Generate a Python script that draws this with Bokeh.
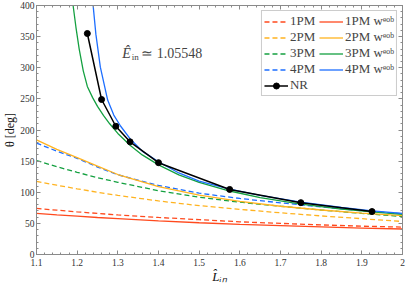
import numpy as np
from bokeh.plotting import figure
from bokeh.models import (Range1d, LinearAxis, FixedTicker, Legend, LegendItem, Label,
                          CustomLabelingPolicy)
from bokeh.embed import file_html
from bokeh.resources import INLINE

# ---------------- data ----------------
L_pm = [1.1, 1.15, 1.2, 1.25, 1.3, 1.4, 1.5, 1.6, 1.7, 1.8, 1.9, 2.0]
theta_1pm     = [74, 71.2, 68.5, 66, 63.5, 59.5, 56, 52.5, 50, 47.5, 45.5, 44]
theta_1pm_eob = [66, 63.7, 61.5, 59.4, 57.5, 54, 51, 48.5, 46.3, 44.3, 42.5, 41]
theta_2pm     = [117.5, 111.3, 105.5, 100, 95, 86, 78.5, 72.5, 67, 62, 57.5, 53]
theta_2pm_eob = [184, 169, 155.5, 142, 128.5, 109, 95.5, 85.5, 77.5, 71.5, 66.5, 62.5]
theta_3pm     = [151, 141, 132, 123.5, 116, 102.5, 92, 84, 77.5, 71.5, 66, 61]
theta_4pm     = [179, 166, 154.5, 140.5, 128, 111, 98.5, 90, 83, 76.5, 70.5, 65.5]

L_3eob = [1.188, 1.19, 1.197, 1.205, 1.215, 1.225, 1.238, 1.25, 1.265, 1.28, 1.30, 1.33,
          1.36, 1.40, 1.45, 1.50, 1.575, 1.65, 1.75, 1.85, 1.925, 2.0]
theta_3pm_eob = [410, 400, 365, 330, 295, 270, 252, 238, 223, 210, 194.5, 175.5,
                 160, 144, 128, 116, 102, 91.5, 81, 73, 68.5, 64.5]

L_4eob = [1.2385, 1.246, 1.257, 1.275, 1.29, 1.307, 1.33, 1.36, 1.40, 1.45, 1.50,
          1.575, 1.65, 1.75, 1.85, 1.925, 2.0]
theta_4pm_eob = [405, 354, 301, 248, 224, 206, 186, 166, 149, 131, 118,
                 105, 95, 84, 75.5, 70, 66]

L_nr = [1.225, 1.26, 1.295, 1.33, 1.40, 1.575, 1.75, 1.925]
theta_nr = [355, 249, 206, 181, 147.5, 104.5, 83.3, 69]

x_major = [1.1, 1.2, 1.3, 1.4, 1.5, 1.6, 1.7, 1.8, 1.9, 2.0]
y_major = [0, 50, 100, 150, 200, 250, 300, 350, 400]

RED = "#FF4A1E"
ORANGE = "#FFB320"
GREEN = "#14A040"
BLUE = "#1D6EFF"
FONT = "Liberation Serif"
FRAME = "#8a8a8a"

# ---------------- figure ----------------
p = figure(width=407, height=286, x_range=Range1d(1.1, 2.0), y_range=Range1d(0, 400),
           output_backend="svg", toolbar_location=None,
           min_border_left=35, min_border_right=3, min_border_top=5, min_border_bottom=30,
           x_axis_label="L̂ᵢₙ", y_axis_label="θ [deg]")
p.grid.visible = False
p.outline_line_color = FRAME
p.outline_line_width = 1
p.background_fill_color = "white"
p.border_fill_color = "white"

x_minor = list(np.round(np.arange(1.1, 2.0001, 0.02), 3))
y_minor = list(range(0, 401, 10))
xt = FixedTicker(ticks=x_major, minor_ticks=x_minor)
yt = FixedTicker(ticks=y_major, minor_ticks=y_minor)

hide_all = CustomLabelingPolicy(code="""
const all = [...indices]
for (const i of all) indices.unset(i)
return indices
""")


def style_axis(ax, show_labels):
    ax.axis_line_color = FRAME
    ax.major_tick_in = 4
    ax.major_tick_out = 0
    ax.minor_tick_in = 2
    ax.minor_tick_out = 0
    ax.major_tick_line_color = FRAME
    ax.minor_tick_line_color = FRAME
    ax.major_label_text_font = FONT
    ax.major_label_text_color = "#333333"
    ax.axis_label_text_font = FONT
    ax.axis_label_text_color = "#111111"
    if show_labels:
        ax.major_label_text_font_size = "9.5px"
    else:
        ax.major_label_text_font_size = "1px"
        ax.major_label_standoff = 0
        ax.major_label_policy = hide_all


xa = p.xaxis[0]
xa.ticker = xt
xa.major_label_overrides = {"2": "2"}
xa.major_label_standoff = 4
style_axis(xa, True)
xa.axis_label_standoff = 0
xa.axis_label_text_font_size = "13px"
xa.axis_label_text_font_style = "italic"

ya = p.yaxis[0]
ya.ticker = yt
ya.major_label_standoff = 2
style_axis(ya, True)
ya.axis_label_standoff = 0
ya.axis_label_text_font_size = "12px"
ya.axis_label_text_font_style = "normal"

top = LinearAxis(ticker=xt)
style_axis(top, False)
p.add_layout(top, "above")
right = LinearAxis(ticker=yt)
style_axis(right, False)
p.add_layout(right, "right")

# ---------------- curves ----------------
lw = 1.3
dash = "5 3"
r1d = p.line(L_pm, theta_1pm, line_color=RED, line_width=lw, line_dash=dash)
r2d = p.line(L_pm, theta_2pm, line_color=ORANGE, line_width=lw, line_dash=dash)
r3d = p.line(L_pm, theta_3pm, line_color=GREEN, line_width=lw, line_dash=dash)
r4d = p.line(L_pm, theta_4pm, line_color=BLUE, line_width=lw, line_dash=dash)
r1s = p.line(L_pm, theta_1pm_eob, line_color=RED, line_width=lw)
r2s = p.line(L_pm, theta_2pm_eob, line_color=ORANGE, line_width=lw)
r3s = p.line(L_3eob, theta_3pm_eob, line_color=GREEN, line_width=lw)
r4s = p.line(L_4eob, theta_4pm_eob, line_color=BLUE, line_width=lw)
rnl = p.line(L_nr, theta_nr, line_color="black", line_width=1.5)
rnp = p.scatter(L_nr, theta_nr, size=6, color="black")

items = [
    LegendItem(label="1PM", renderers=[r1d]),
    LegendItem(label="2PM", renderers=[r2d]),
    LegendItem(label="3PM", renderers=[r3d]),
    LegendItem(label="4PM", renderers=[r4d]),
    LegendItem(label="NR", renderers=[rnl, rnp]),
    LegendItem(label="1PM wᵉᵒᵇ", renderers=[r1s]),
    LegendItem(label="2PM wᵉᵒᵇ", renderers=[r2s]),
    LegendItem(label="3PM wᵉᵒᵇ", renderers=[r3s]),
    LegendItem(label="4PM wᵉᵒᵇ", renderers=[r4s]),
]
legend = Legend(items=items, ncols=2, location="top_right", margin=5, padding=2,
                spacing=0, glyph_width=24, glyph_height=15, label_height=15,
                label_width=29, label_standoff=2,
                label_text_font=FONT, label_text_font_size="13px",
                border_line_color="#999999", border_line_width=1,
                background_fill_color="white", background_fill_alpha=1.0)
p.add_layout(legend)

# ---------------- energy annotation ----------------
ex, ey = 1.311, 323
p.add_layout(Label(x=ex, y=ey, text="Ê", text_font=FONT, text_font_style="italic",
                   text_font_size="14px", text_baseline="middle", text_align="left"))
p.add_layout(Label(x=ex, y=ey, x_offset=9.5, y_offset=-4, text="in", text_font=FONT,
                   text_font_size="9px", text_baseline="middle", text_align="left"))
p.add_layout(Label(x=ex, y=ey, x_offset=19, text="≃ 1.05548", text_font=FONT,
                   text_font_size="14px", text_baseline="middle", text_align="left"))

open("out.html", "w").write(file_html(p, INLINE))
